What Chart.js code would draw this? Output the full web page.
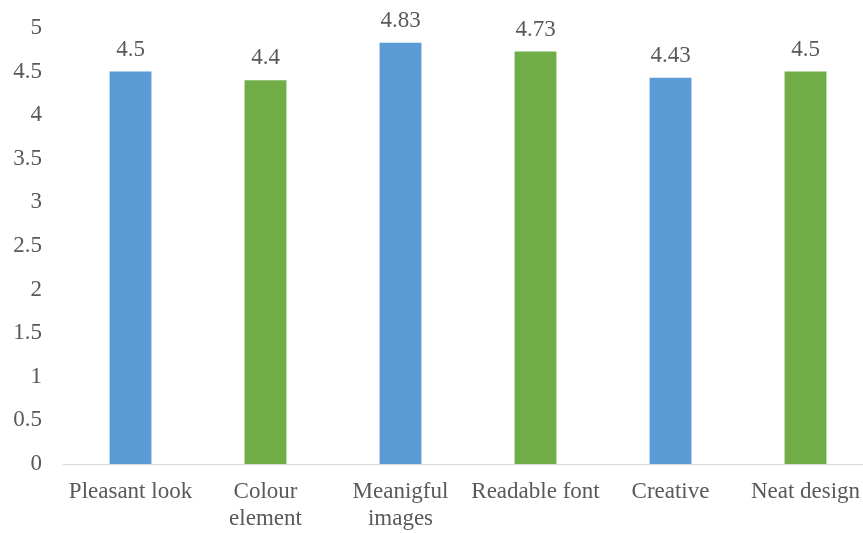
<!DOCTYPE html>
<html>
<head>
<meta charset="utf-8">
<script src="https://cdn.jsdelivr.net/npm/chart.js@4/dist/chart.umd.min.js"></script>
<style>
  html,body{ margin:0; padding:0; background:#fff; overflow:hidden; }
  #wrap{ width:863px; height:533px; overflow:hidden; }
</style>
</head>
<body>
<!-- plot runs past the right edge in the reference, so the canvas is a bit wider than the frame -->
<div id="wrap"><canvas id="chartCanvas" width="873" height="533"></canvas></div>
<script>
// data
const categories = [['Pleasant look'], ['Colour','element'], ['Meanigful','images'], ['Readable font'], ['Creative'], ['Neat design']];
const scores = [4.5, 4.4, 4.83, 4.73, 4.43, 4.5];
const barColours = ['#5B9BD5','#70AD47','#5B9BD5','#70AD47','#5B9BD5','#70AD47'];
const yTicks = [0, 0.5, 1, 1.5, 2, 2.5, 3, 3.5, 4, 4.5, 5];

const fontFam = '"Liberation Serif", "Times New Roman", serif';
const txt = '#595959';

// value labels above bars
const valueLabels = {
  id: 'valueLabels',
  afterDatasetsDraw(chart){
    const ctx = chart.ctx;
    const meta = chart.getDatasetMeta(0);
    ctx.save();
    ctx.font = '23px ' + fontFam;
    ctx.fillStyle = txt;
    ctx.textAlign = 'center';
    ctx.textBaseline = 'alphabetic';
    meta.data.forEach((bar, i) => {
      ctx.fillText(String(scores[i]), bar.x, bar.y - 16);
    });
    ctx.restore();
  }
};

// keep label overflow from shrinking the plot
function noPad(s){ s.paddingLeft = 0; s.paddingRight = 0; s.paddingTop = 0; s.paddingBottom = 0; }

new Chart(document.getElementById('chartCanvas'), {
  type: 'bar',
  data: {
    labels: categories,
    datasets: [{
      data: scores,
      backgroundColor: barColours,
      borderWidth: 0,
      categoryPercentage: 1,
      barPercentage: 0.31
    }]
  },
  options: {
    responsive: false,
    animation: false,
    layout: { padding: { top: 28, right: 0, left: 12, bottom: 0 } },
    plugins: { legend: { display: false }, tooltip: { enabled: false } },
    scales: {
      x: {
        afterFit(s){ noPad(s); s.height = 69; },
        grid: { display: false, drawTicks: false },
        border: { display: true, color: '#d9d9d9', width: 1 },
        ticks: {
          color: txt,
          font: { family: fontFam, size: 23, lineHeight: 1.2 },
          padding: 14,
          maxRotation: 0,
          autoSkip: false
        }
      },
      y: {
        min: 0, max: 5,
        afterBuildTicks(axis){ axis.ticks = yTicks.map(v => ({ value: v })); },
        afterFit(s){ noPad(s); s.width = 51; },
        grid: { display: false, drawTicks: false },
        border: { display: false },
        ticks: {
          color: txt,
          font: { family: fontFam, size: 23 },
          padding: 21,
          callback: v => String(v)
        }
      }
    }
  },
  plugins: [valueLabels]
});
</script>
</body>
</html>
